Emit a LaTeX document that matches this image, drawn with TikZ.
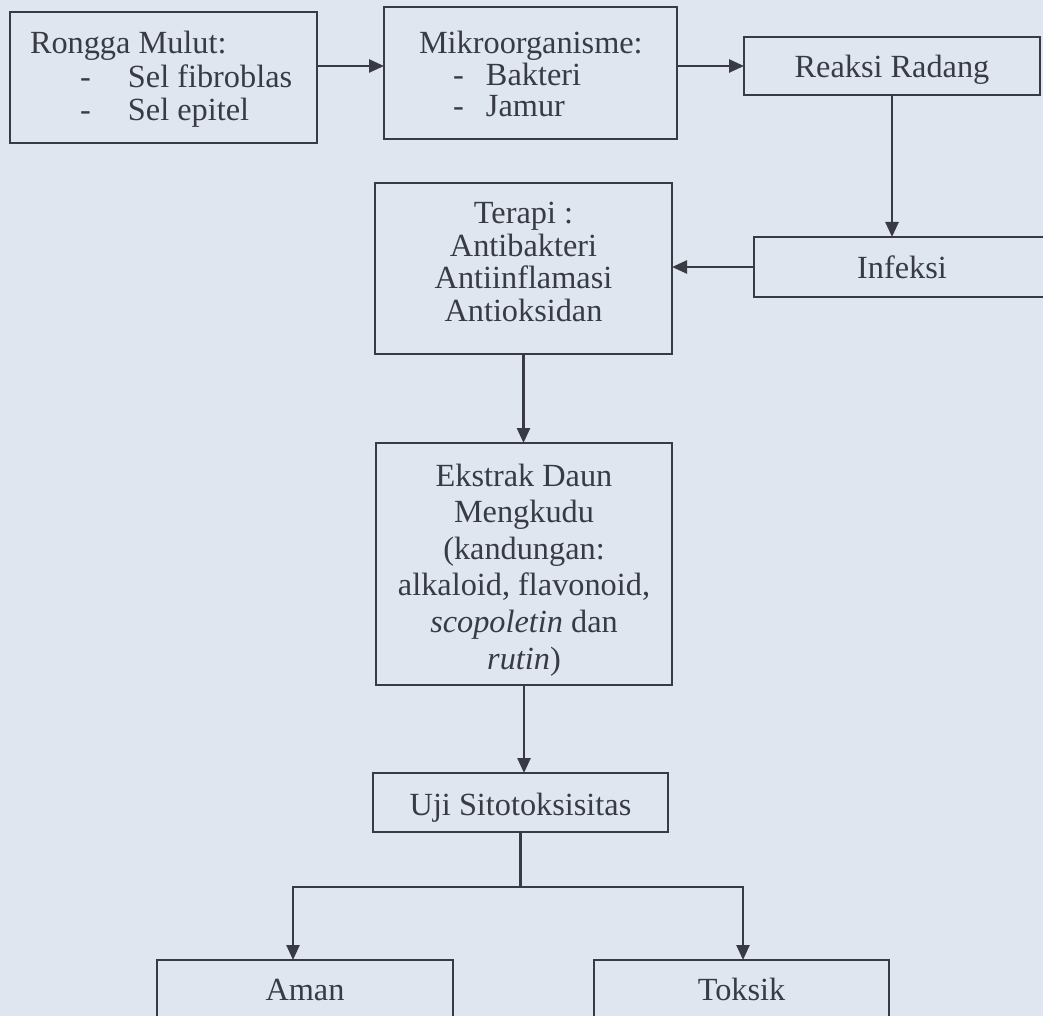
\documentclass[tikz,border=0pt]{standalone}
\usepackage{fontspec}
\setmainfont{Liberation Serif}
\usetikzlibrary{arrows.meta}
\definecolor{bgc}{HTML}{DFE6F0}
\definecolor{ink}{HTML}{383B43}
\tikzset{
  box/.style={draw=ink, line width=2.5pt, inner sep=0pt, outer sep=0pt},
  txt/.style={inner sep=0pt, outer sep=0pt, text=ink, font=\fontsize{32.3}{33}\selectfont},
  arr/.style={draw=ink, line width=2.5pt, -{Triangle[length=15pt,width=13pt]}},
  ln/.style={draw=ink, line width=2.5pt}
}
\begin{document}
\begin{tikzpicture}[x=1pt,y=-1pt]
\useasboundingbox (0,0) rectangle (1043,1016);
\fill[bgc] (0,0) rectangle (1043,1016);
\clip (0,0) rectangle (1043,1016);

% boxes
\node[box, minimum width=307pt, minimum height=131pt] (rongga) at (163.5,77.5) {};
\node[box, minimum width=293pt, minimum height=132pt] (mikro) at (530.5,73) {};
\node[box, minimum width=296pt, minimum height=58pt] (reaksi) at (892,66) {};
\node[box, minimum width=296pt, minimum height=60pt] (infeksi) at (902,267) {};
\node[box, minimum width=297pt, minimum height=171pt] (terapi) at (523.5,268.5) {};
\node[box, minimum width=296pt, minimum height=242pt] (ekstrak) at (524,564) {};
\node[box, minimum width=295pt, minimum height=59pt] (uji) at (520.5,802.5) {};
\node[box, minimum width=296pt, minimum height=60pt] (aman) at (305,990) {};
\node[box, minimum width=295pt, minimum height=60pt] (toksik) at (741.5,990) {};

% texts
\node[txt, anchor=base west, font=\fontsize{32.3}{33.5}\selectfont] (ronggat) at (30,54)
  {\begin{tabular}[t]{@{}l@{}}Rongga Mulut:\\
   \makebox[98pt][l]{\hspace{50pt}-}Sel fibroblas\\
   \makebox[98pt][l]{\hspace{50pt}-}Sel epitel\end{tabular}};
\node[txt, anchor=base west, font=\fontsize{32.3}{31}\selectfont] (mikrot) at (419,54)
  {\begin{tabular}[t]{@{}l@{}}Mikroorganisme:\\
   \makebox[67pt][l]{\hspace{34pt}-}Bakteri\\
   \makebox[67pt][l]{\hspace{34pt}-}Jamur\end{tabular}};
\node[txt, anchor=base] (reaksit) at (892,78) {Reaksi Radang};
\node[txt, anchor=base] (infeksit) at (902,278) {Infeksi};
\node[txt, anchor=base, font=\fontsize{32.3}{32.3}\selectfont] (terapit) at (523.5,224)
  {\begin{tabular}[t]{@{}c@{}}Terapi :\\ Antibakteri\\ Antiinflamasi\\ Antioksidan\end{tabular}};
\node[txt, anchor=base, font=\fontsize{32.3}{36.6}\selectfont] (ekstrakt) at (524,486)
  {\begin{tabular}[t]{@{}c@{}}Ekstrak Daun\\ Mengkudu\\ (kandungan:\\ alkaloid, flavonoid,\\ \textit{scopoletin} dan\\ \textit{rutin})\end{tabular}};
\node[txt, anchor=base] (ujit) at (520.5,815) {Uji Sitotoksisitas};
\node[txt, anchor=base] (amant) at (305,1000) {Aman};
\node[txt, anchor=base] (toksikt) at (741.5,1000) {Toksik};

% connectors
\draw[arr] (rongga.east |- reaksi.west) -- (mikro.west |- reaksi.west);
\draw[arr] (mikro.east |- reaksi.west) -- (reaksi.west);
\draw[arr] (reaksi.south) -- (reaksi.south |- infeksi.north);
\draw[arr] (infeksi.west) -- (terapi.east |- infeksi.west);
\draw[arr] (terapi.south) -- (terapi.south |- ekstrak.north);
\draw[arr] (ekstrak.south) -- (ekstrak.south |- uji.north);

\coordinate (split) at (522,887);
\coordinate (bl) at (293,887);
\coordinate (br) at (743,887);
\draw[ln] (uji.south) -- (uji.south |- split);
\draw[ln, line cap=rect] (bl) -- (br);
\draw[arr] (bl) -- (bl |- aman.north);
\draw[arr] (br) -- (br |- toksik.north);
\end{tikzpicture}
\end{document}
